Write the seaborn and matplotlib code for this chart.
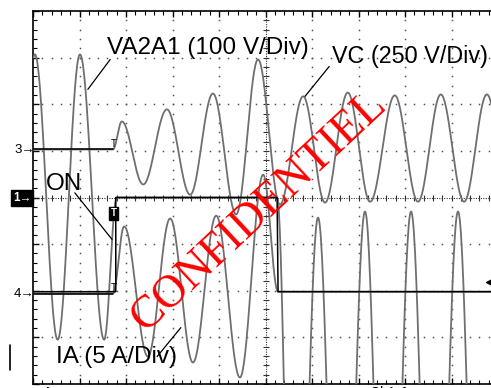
import numpy as np
import pandas as pd
import matplotlib
matplotlib.use("Agg")
import matplotlib.pyplot as plt
import seaborn as sns

# ---- data (x in time divisions, y in vertical divisions, 0 = centre) ----
# knots are the read extrema / corners of each trace
va_t = [0.00, 0.04, 0.53, 1.01, 1.53, 1.80, 5.25, 5.63, 6.13, 6.63, 7.14, 7.63, 8.13, 8.63, 9.14, 9.64, 10.14]
va_v = [3.00, 3.07, -3.05, 3.07, -3.05, 0.00, 0.00, -12.6, -0.43, -12.6, -0.30, -12.6, -0.30, -12.6, -0.30, -12.6, -0.30]

vc_t = [0.00, 1.72, 1.91, 2.37, 2.88, 3.38, 3.87, 4.37, 4.84, 5.31, 5.81, 6.28, 6.77, 7.25, 7.78, 8.28, 8.77, 9.27, 9.76, 10.26]
vc_v = [1.03, 1.03, 1.63, 0.28, 1.89, 0.06, 2.23, -0.36, 2.96, -0.15, 2.17, -0.11, 2.25, -0.09, 2.19, -0.09, 2.21, -0.09, 2.21, -0.09]

ia_t = [0.00, 1.72, 1.96, 2.47, 2.95, 3.44, 3.94, 4.45, 4.95, 5.27, 10.5]
ia_v = [-2.06, -2.06, -0.62, -3.41, -0.45, -3.54, -0.39, -3.86, 0.49, -2.02, -2.02]

on_t = [0.00, 1.78, 1.78, 5.25, 5.27, 10.5]
on_v = [-2.02, -2.02, 0.00, 0.00, -2.02, -2.02]

labels = ["VA2A1 (100 V/Div)", "VC (250 V/Div)", "ON", "IA (5 A/Div)"]
watermark = "CONFIDENTIEL"


def render(t, v, n=40):
    """Draw a smooth half-cosine stroke between consecutive read knots."""
    xs, ys = [], []
    for i in range(len(t) - 1):
        s = np.linspace(0, 1, n, endpoint=False)
        xs.append(t[i] + (t[i + 1] - t[i]) * s)
        ys.append(v[i] + (v[i + 1] - v[i]) * (1 - np.cos(np.pi * s)) / 2)
    xs.append([t[-1]]); ys.append([v[-1]])
    return np.concatenate(xs), np.concatenate(ys)


frames = []
for name, t, v in [("VA2A1", va_t, va_v), ("VC", vc_t, vc_v), ("IA", ia_t, ia_v)]:
    x, y = render(t, v)
    frames.append(pd.DataFrame({"t": x, "v": y, "trace": name}))
frames.append(pd.DataFrame({"t": on_t, "v": on_v, "trace": "ON"}))
df = pd.concat(frames, ignore_index=True)

sns.set_theme(style="white")
plt.rcParams["font.family"] = ["Liberation Sans", "DejaVu Sans"]

W, H = 491, 388
fig = plt.figure(figsize=(W / 100, H / 100), dpi=100)
fig.patch.set_facecolor("white")
ax = fig.add_axes([33 / W, 4 / H, 465 / W, 373 / H])
ax.set_xlim(0, 10)
ax.set_ylim(-4, 4)
ax.set_facecolor("white")

# graticule: dotted grid made of dots every 1/5 division
minor = np.arange(0, 10.001, 0.2)
minor_y = np.arange(-4, 4.001, 0.2)
for k in range(1, 10):
    if k == 5:
        continue
    ax.plot(np.full_like(minor_y, k), minor_y, ls="none", marker="s", ms=1.1, mew=0, color="#555555", zorder=1)
for j in range(-3, 4):
    if j == 0:
        continue
    ax.plot(minor, np.full_like(minor, j), ls="none", marker="s", ms=1.1, mew=0, color="#555555", zorder=1)
# centre axes with tick marks
ax.axvline(5, ls=(0, (1, 1.2)), lw=0.8, color="#333333", zorder=1)
ax.axhline(0, ls=(0, (1, 1.2)), lw=0.8, color="#333333", zorder=1)
ax.plot(np.full_like(minor_y, 5), minor_y, ls="none", marker="_", ms=4, mew=0.8, color="#333333", zorder=1)
ax.plot(minor, np.zeros_like(minor), ls="none", marker="|", ms=4, mew=0.8, color="#333333", zorder=1)

# traces
palette = {"VA2A1": "#6f6f6f", "VC": "#6f6f6f", "IA": "#6f6f6f", "ON": "#000000"}
sns.lineplot(data=df[df.trace != "ON"], x="t", y="v", hue="trace", palette=palette,
             sort=False, estimator=None, legend=False, lw=1.3, ax=ax, zorder=3)
sns.lineplot(data=df[df.trace == "ON"], x="t", y="v", color="black",
             sort=False, estimator=None, legend=False, lw=1.1, ax=ax, zorder=4)
# pre-trigger baselines drawn black like the scope
ax.plot(vc_t[:2], vc_v[:2], color="black", lw=1.1, zorder=4)
ax.plot(ia_t[:2], ia_v[:2], color="black", lw=1.1, zorder=4)

# trigger "T" markers
ax.text(1.74, 1.05, "T", fontsize=7, ha="center", va="bottom", color="black", zorder=5)
ax.text(1.74, -2.04, "T", fontsize=7, ha="center", va="bottom", color="black", zorder=5)
ax.text(1.73, -0.34, "T", fontsize=7, ha="center", va="center", color="white", fontweight="bold", zorder=5,
        bbox=dict(boxstyle="square,pad=0.15", facecolor="black", edgecolor="black"))

# annotations
fs = 17.5
ax.text(1.60, 3.20, labels[0], fontsize=fs, ha="left", va="center", color="black", zorder=6)
ax.plot([1.66, 1.18], [2.96, 2.32], color="black", lw=0.9, zorder=6)
ax.text(6.43, 3.03, labels[1], fontsize=16.8, ha="left", va="center", color="black", zorder=6)
ax.plot([6.37, 5.85], [2.81, 2.17], color="black", lw=0.9, zorder=6)
ax.text(0.27, 0.28, labels[2], fontsize=fs, ha="left", va="center", color="black", zorder=6)
ax.plot([0.90, 1.70], [0.10, -0.90], color="black", lw=0.9, zorder=6)
ax.text(0.50, -3.43, labels[3], fontsize=fs, ha="left", va="center", color="black", zorder=6)
ax.plot([2.67, 3.18], [-3.41, -2.79], color="black", lw=0.9, zorder=6)

# watermark
ax.text(4.86, -0.30, watermark, fontsize=33, rotation=43, rotation_mode="anchor", ha="center", va="center",
        color="#ff0000", family=["Liberation Serif", "DejaVu Serif"], zorder=7)

# right-edge trigger level marker
ax.plot([9.82], [-1.82], marker="<", ms=6, color="black", clip_on=False, zorder=6)

# frame and border ticks
for s in ax.spines.values():
    s.set_color("black")
    s.set_linewidth(1.2)
ax.set_xticks(np.arange(0, 11, 1))
ax.set_xticks(minor, minor=True)
ax.set_yticks(np.arange(-4, 5, 1))
ax.set_yticks(minor_y, minor=True)
ax.tick_params(which="both", direction="in", top=True, right=True, bottom=True, left=True,
               labelbottom=False, labelleft=False, color="black")
ax.tick_params(which="major", length=4, width=1)
ax.tick_params(which="minor", length=3, width=0.8)
ax.set_xlabel("")
ax.set_ylabel("")


def fx(px):
    return px / W


def fy(py):
    return 1 - py / H


fig.text(fx(14), fy(150), "3\u2192", fontsize=9.5, ha="left", va="center", color="black")
fig.text(fx(13), fy(198), "1\u2192", fontsize=8.5, ha="left", va="center", color="white", fontweight="bold",
         bbox=dict(boxstyle="square,pad=0.15", facecolor="black", edgecolor="black"))
fig.text(fx(14), fy(294), "4\u2192", fontsize=9.5, ha="left", va="center", color="black")
fig.add_artist(plt.Line2D([fx(10), fx(10)], [fy(345), fy(370)], color="black", lw=1.2))

# readout line at the bottom, mostly cut off by the screenshot
fig.text(fx(36), fy(386.5), "Ch3", fontsize=10, fontweight="bold", ha="left", va="top", color="black")
fig.text(fx(92), fy(386.5), "100 V", fontsize=10, ha="left", va="top", color="black")
fig.text(fx(285), fy(386.5), "M 2.5ms", fontsize=10, ha="left", va="top", color="black")
fig.text(fx(370), fy(386.5), "Ch1 \u0192", fontsize=10, ha="left", va="top", color="black")
fig.text(fx(440), fy(386.5), "3.0 V", fontsize=10, ha="left", va="top", color="black")

fig.savefig("out.png", dpi=100)
